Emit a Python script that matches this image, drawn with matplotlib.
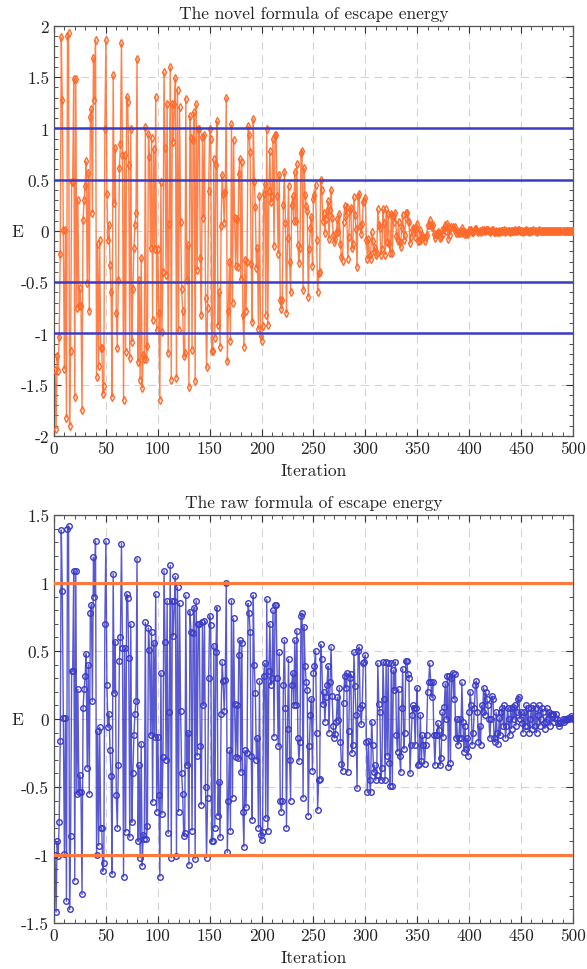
import numpy as np
import matplotlib.pyplot as plt
from matplotlib.ticker import MultipleLocator, FormatStrFormatter

plt.rcParams['font.family'] = 'cmr10'
plt.rcParams['axes.unicode_minus'] = False
plt.rcParams['mathtext.fontset'] = 'cm'

iterations = np.arange(1, 501)

# escape energy from the novel formula
novel_E = [
    -1.36, -1.93, -1.22, -1.37, -1.03, -0.22, 1.89, 1.28, 0.01, -1.35,
    0.01, -1.82, 1.90, 1.93, -1.90, -1.17, 0.48, 0.48, 1.48, -1.62,
    1.48, -0.75, 0.30, -0.73, -0.56, -0.73, -1.75, 0.11, 0.30, 0.44,
    0.68, -0.51, 0.57, -0.78, 1.11, 1.19, 0.18, 1.69, 1.28, 1.86,
    -1.42, -0.13, -1.32, -0.09, -1.14, -1.14, -1.59, -1.51, 0.99, 1.86,
    0.36, -0.09, 0.06, -0.33, -0.60, -1.62, 1.52, 0.27, 0.81, -0.80,
    -1.14, -0.48, 0.61, 0.85, 1.83, 0.74, -1.65, 0.74, -1.18, 1.31,
    1.26, 0.64, -1.24, 0.99, -1.08, -0.57, -0.17, 0.06, 0.18, 1.68,
    -1.28, -0.48, -1.45, -0.26, -1.53, -1.21, -1.25, 1.01, -1.25, -1.12,
    0.95, 0.72, -0.17, 0.91, -0.87, 0.80, -0.18, 1.31, -0.97, -0.18,
    -0.80, -1.65, 0.48, -0.99, -0.40, 1.55, 0.81, -0.43, 1.24, -1.19,
    0.07, 1.60, -1.45, 1.24, 0.87, 1.24, 1.49, -1.43, 1.38, -0.97,
    1.21, 0.09, -0.57, -0.78, -1.22, -1.19, 1.29, -0.48, -0.14, -1.52,
    1.12, 0.91, -1.16, 0.89, 1.16, -1.46, 1.24, -0.38, 0.99, 0.99,
    -0.26, -0.82, 0.92, 0.13, 0.94, -0.65, -1.33, -0.75, 0.39, 0.99,
    0.90, -1.17, -1.17, 0.70, -1.04, 0.64, 1.07, -0.92, -0.60, -1.13,
    0.05, 0.55, 0.36, 0.08, 0.38, 1.30, -1.27, -0.78, -0.30, -1.07,
    1.04, -0.70, 0.89, 0.13, -0.34, 0.12, -0.35, 0.56, 0.70, -0.47,
    0.67, -0.82, -1.13, -0.28, -0.78, -0.30, 1.02, 0.94, 0.77, -0.32,
    -0.89, 1.09, 0.48, 0.23, -0.36, -0.17, -0.96, 0.34, -1.02, -1.07,
    -0.93, 0.36, 0.46, -0.82, 0.99, -0.92, 0.39, 0.78, 0.28, 0.34,
    0.90, -0.15, 0.94, 0.94, 0.34, -0.22, 0.55, -0.67, -0.76, -0.67,
    0.25, 0.58, 0.08, -0.80, -0.07, 0.44, -0.30, -0.60, 0.25, 0.34,
    0.10, 0.58, 0.10, 0.65, -0.14, -0.31, -0.17, 0.76, 0.78, -0.58,
    0.61, 0.35, 0.24, 0.19, -0.64, -0.18, 0.03, 0.14, -0.34, 0.31,
    0.35, 0.45, -0.09, -0.60, -0.41, -0.40, 0.50, 0.40, 0.10, 0.18,
    -0.02, 0.12, 0.19, 0.29, -0.08, 0.20, 0.40, 0.13, -0.04, -0.11,
    -0.08, -0.02, 0.12, -0.01, 0.17, -0.13, -0.25, -0.29, 0.09, 0.24,
    0.16, 0.23, -0.27, -0.06, 0.20, 0.22, -0.17, -0.13, 0.33, 0.16,
    0.02, -0.35, 0.34, 0.36, 0.05, -0.03, 0.07, 0.28, 0.29, 0.32,
    -0.09, -0.27, -0.08, -0.23, -0.27, -0.01, -0.10, -0.20, -0.17, -0.23,
    -0.21, 0.21, 0.06, 0.03, -0.23, -0.18, 0.21, 0.08, -0.23, 0.21,
    -0.11, 0.17, -0.13, -0.21, 0.17, -0.21, 0.15, 0.09, 0.18, -0.05,
    -0.10, 0.09, -0.11, -0.16, 0.03, 0.16, -0.09, -0.04, 0.18, 0.18,
    0.10, 0.09, -0.12, -0.06, 0.01, 0.03, 0.02, -0.06, 0.02, 0.07,
    -0.10, -0.10, 0.01, -0.09, -0.04, -0.06, -0.10, -0.06, -0.04, 0.06,
    0.06, 0.11, 0.06, 0.04, 0.06, -0.03, -0.07, -0.03, -0.03, -0.01,
    -0.02, -0.07, -0.06, 0.01, -0.03, 0.02, 0.06, 0.00, 0.07, -0.08,
    0.04, -0.04, 0.04, 0.04, 0.02, 0.04, -0.02, 0.00, -0.02, -0.02,
    0.00, -0.02, 0.03, 0.00, -0.03, -0.01, -0.03, -0.02, -0.03, 0.01,
    0.01, 0.01, -0.01, -0.01, 0.00, 0.02, 0.02, 0.00, -0.01, 0.00,
    -0.01, 0.01, 0.00, 0.01, 0.00, 0.01, 0.01, 0.01, 0.00, -0.01,
    0.00, 0.01, 0.01, -0.01, -0.01, 0.00, -0.01, -0.01, 0.00, -0.01,
    0.00, 0.00, 0.00, 0.01, -0.01, 0.00, 0.00, 0.00, -0.01, 0.00,
    0.00, 0.00, 0.00, 0.01, 0.00, 0.00, 0.01, 0.01, 0.00, 0.00,
    0.00, -0.01, 0.00, 0.00, 0.01, 0.00, 0.00, -0.01, 0.00, 0.00,
    0.00, 0.01, 0.00, 0.00, -0.01, 0.00, 0.01, 0.00, 0.00, 0.00,
    0.00, 0.00, 0.00, 0.00, 0.00, 0.00, 0.00, 0.00, 0.00, 0.00,
    0.00, 0.00, 0.00, 0.00, 0.00, 0.00, 0.00, 0.00, 0.00, 0.00,
    0.00, 0.00, 0.00, 0.00, 0.00, 0.00, 0.00, 0.00, 0.00, 0.00,
]

# escape energy from the raw formula
raw_E = [
    -1.00, -1.42, -0.90, -1.01, -0.76, -0.16, 1.39, 0.94, 0.01, -0.99,
    0.01, -1.34, 1.40, 1.42, -1.40, -0.86, 0.35, 0.35, 1.09, -1.19,
    1.09, -0.55, 0.22, -0.54, -0.41, -0.54, -1.29, 0.08, 0.22, 0.32,
    0.48, -0.36, 0.40, -0.55, 0.78, 0.84, 0.13, 1.19, 0.90, 1.31,
    -1.00, -0.09, -0.93, -0.06, -0.80, -0.80, -1.12, -1.06, 0.70, 1.31,
    0.25, -0.06, 0.04, -0.23, -0.42, -1.14, 1.07, 0.19, 0.57, -0.56,
    -0.80, -0.34, 0.43, 0.60, 1.29, 0.52, -1.16, 0.52, -0.83, 0.92,
    0.89, 0.45, -0.87, 0.70, -0.76, -0.40, -0.12, 0.04, 0.13, 1.18,
    -0.90, -0.34, -1.02, -0.18, -1.08, -0.85, -0.88, 0.71, -0.88, -0.79,
    0.67, 0.51, -0.12, 0.64, -0.61, 0.56, -0.13, 0.92, -0.68, -0.13,
    -0.56, -1.16, 0.34, -0.70, -0.28, 1.09, 0.57, -0.30, 0.87, -0.84,
    0.05, 1.13, -1.02, 0.87, 0.61, 0.87, 1.05, -1.01, 0.97, -0.68,
    0.85, 0.06, -0.40, -0.55, -0.86, -0.84, 0.91, -0.34, -0.10, -1.07,
    0.79, 0.64, -0.82, 0.63, 0.82, -1.03, 0.87, -0.27, 0.70, 0.70,
    -0.20, -0.63, 0.71, 0.10, 0.72, -0.50, -1.02, -0.58, 0.30, 0.76,
    0.69, -0.90, -0.90, 0.54, -0.80, 0.49, 0.82, -0.71, -0.46, -0.87,
    0.04, 0.42, 0.28, 0.06, 0.29, 1.00, -0.98, -0.60, -0.23, -0.82,
    0.87, -0.58, 0.74, 0.11, -0.28, 0.10, -0.29, 0.47, 0.58, -0.39,
    0.56, -0.68, -0.94, -0.23, -0.65, -0.25, 0.85, 0.78, 0.64, -0.27,
    -0.74, 0.91, 0.40, 0.19, -0.30, -0.14, -0.80, 0.28, -0.85, -0.89,
    -0.83, 0.32, 0.41, -0.73, 0.88, -0.82, 0.35, 0.70, 0.25, 0.30,
    0.80, -0.13, 0.84, 0.84, 0.30, -0.20, 0.49, -0.60, -0.68, -0.60,
    0.25, 0.58, 0.08, -0.80, -0.07, 0.44, -0.30, -0.60, 0.25, 0.34,
    0.10, 0.58, 0.10, 0.65, -0.14, -0.31, -0.17, 0.76, 0.78, -0.58,
    0.68, 0.39, 0.27, 0.21, -0.71, -0.20, 0.03, 0.15, -0.38, 0.34,
    0.39, 0.50, -0.10, -0.67, -0.45, -0.44, 0.55, 0.44, 0.11, 0.20,
    -0.02, 0.16, 0.25, 0.39, -0.10, 0.27, 0.53, 0.17, -0.05, -0.14,
    -0.11, -0.02, 0.16, -0.01, 0.23, -0.17, -0.33, -0.38, 0.12, 0.32,
    0.23, 0.34, -0.39, -0.09, 0.30, 0.33, -0.25, -0.19, 0.49, 0.24,
    0.03, -0.51, 0.50, 0.53, 0.08, -0.04, 0.10, 0.41, 0.42, 0.47,
    -0.17, -0.54, -0.16, -0.45, -0.54, -0.02, -0.19, -0.39, -0.34, -0.45,
    -0.41, 0.41, 0.11, 0.05, -0.45, -0.36, 0.42, 0.15, -0.45, 0.42,
    -0.27, 0.41, -0.32, -0.49, 0.41, -0.49, 0.36, 0.21, 0.42, -0.12,
    -0.24, 0.22, -0.27, -0.39, 0.08, 0.37, -0.22, -0.10, 0.43, 0.43,
    0.33, 0.30, -0.40, -0.19, 0.03, 0.10, 0.08, -0.19, 0.08, 0.23,
    -0.34, -0.33, 0.03, -0.31, -0.12, -0.19, -0.33, -0.19, -0.12, 0.20,
    0.27, 0.41, 0.27, 0.16, 0.27, -0.12, -0.34, -0.12, -0.12, -0.03,
    -0.08, -0.34, -0.29, 0.05, -0.13, 0.09, 0.26, 0.00, 0.32, -0.35,
    0.32, -0.32, 0.30, 0.34, 0.15, 0.33, -0.14, 0.00, -0.19, -0.14,
    0.00, -0.14, 0.27, -0.02, -0.24, -0.05, -0.22, -0.14, -0.27, 0.05,
    0.20, 0.10, -0.19, -0.10, 0.08, 0.25, 0.28, 0.05, -0.17, -0.05,
    -0.19, 0.10, 0.05, 0.23, 0.03, 0.20, 0.15, 0.10, 0.00, -0.14,
    0.00, 0.17, 0.15, -0.14, -0.17, 0.05, -0.10, -0.18, 0.01, -0.12,
    0.05, 0.08, -0.05, 0.10, -0.14, -0.05, 0.08, 0.00, -0.12, 0.08,
    -0.07, 0.09, 0.00, 0.10, -0.05, 0.05, 0.15, 0.16, 0.00, 0.05,
    -0.03, -0.10, 0.05, -0.05, 0.10, -0.05, 0.08, -0.10, 0.00, 0.08,
    -0.07, 0.10, -0.05, 0.08, -0.10, 0.03, 0.10, -0.05, 0.00, 0.08,
    0.05, -0.03, -0.07, -0.02, 0.08, 0.00, 0.05, -0.05, 0.04, 0.04,
    0.04, -0.02, 0.01, 0.04, 0.00, -0.03, -0.05, -0.03, -0.02, 0.00,
    -0.02, 0.00, -0.01, 0.00, 0.01, 0.00, 0.01, 0.02, 0.01, 0.00,
]

novel_levels = [1, 0.5, -0.5, -1]
raw_levels = [1, -1]

orange = '#ff6a2b'
blue = '#3b3bc8'


def style_axes(ax, ylim, title):
    ax.set_xlim(0, 500)
    ax.set_ylim(*ylim)
    ax.xaxis.set_major_locator(MultipleLocator(50))
    ax.xaxis.set_minor_locator(MultipleLocator(10))
    ax.yaxis.set_major_locator(MultipleLocator(0.5))
    ax.yaxis.set_minor_locator(MultipleLocator(0.1))
    ax.yaxis.set_major_formatter(FormatStrFormatter('%g'))
    ax.tick_params(which='both', direction='in', top=True, right=True,
                   colors='#333333', labelsize=12.5, labelcolor='#222222')
    ax.tick_params(which='major', length=5)
    ax.tick_params(which='minor', length=3)
    ax.grid(True, which='major', linestyle=(0, (7, 5)), color='#d2d2d2', linewidth=0.8)
    for s in ax.spines.values():
        s.set_color('#555555')
        s.set_linewidth(0.9)
    ax.set_title(title, fontsize=12.5, color='#222222', pad=6)
    ax.set_xlabel('Iteration', fontsize=12.5, color='#222222', labelpad=5)
    ax.set_ylabel('E', fontsize=12.5, color='#222222', rotation=0, va='center', ha='center')
    ax.yaxis.set_label_coords(-0.07, 0.5)


fig = plt.figure(figsize=(5.87, 9.70), dpi=100)
ax1 = fig.add_axes([0.092, 0.5495, 0.884, 0.4227])
ax2 = fig.add_axes([0.092, 0.0474, 0.884, 0.4206])

ax1.plot(iterations, novel_E, color=orange, linewidth=1.0, alpha=0.85, zorder=2)
ax1.plot(iterations, novel_E, linestyle='none', marker='d', markersize=4.2,
         markerfacecolor='none', markeredgecolor=orange, markeredgewidth=1.0, zorder=3)
for lv in novel_levels:
    ax1.axhline(lv, color=blue, linewidth=1.8, zorder=4)
style_axes(ax1, (-2, 2), 'The novel formula of escape energy')

ax2.plot(iterations, raw_E, color=blue, linewidth=1.0, alpha=0.85, zorder=2)
ax2.plot(iterations, raw_E, linestyle='none', marker='o', markersize=4.0,
         markerfacecolor='none', markeredgecolor=blue, markeredgewidth=1.0, zorder=3)
for lv in raw_levels:
    ax2.axhline(lv, color='#ff7a3c', linewidth=2.2, zorder=4)
style_axes(ax2, (-1.5, 1.5), 'The raw formula of escape energy')

fig.savefig('out.png', dpi=100, facecolor='white')
